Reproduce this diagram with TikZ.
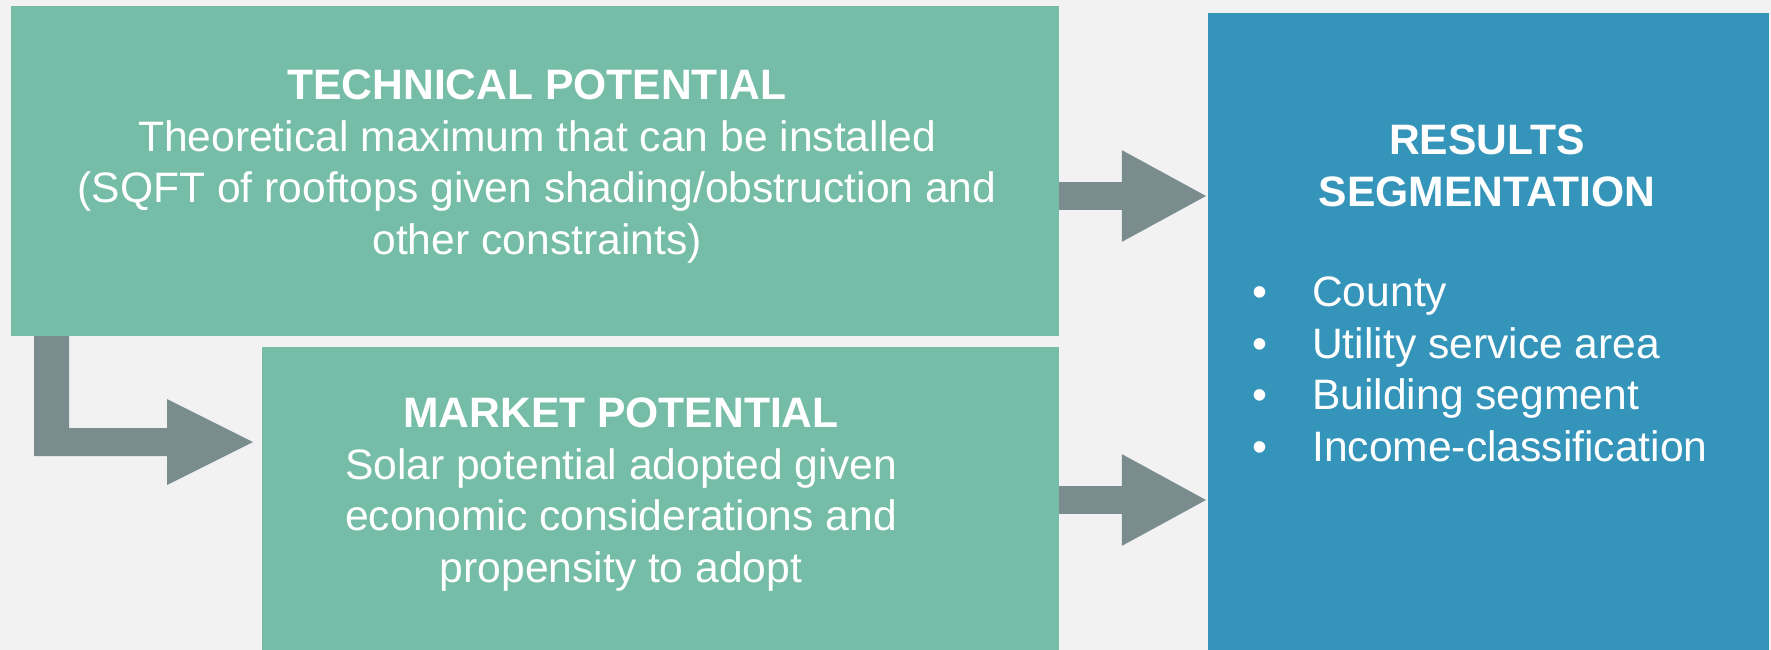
\documentclass[tikz,border=0pt]{standalone}
\usepackage{fontspec}
\setmainfont{Liberation Sans}
\usetikzlibrary{arrows.meta}

\definecolor{boxgreen}{HTML}{75BDA7}
\definecolor{boxblue}{HTML}{3494BA}
\definecolor{arrowgray}{HTML}{7A8C8E}
\definecolor{pagebg}{HTML}{F2F2F2}

\tikzset{
	panel/.style={rectangle, draw=none, inner sep=0pt},
	paneltext/.style={text=white, align=center, inner sep=0pt,
		font=\fontsize{42.6}{51.5}\selectfont},
	flow/.style={arrowgray, line width=28.3pt,
		-{Triangle[length=86pt, width=85pt]}}
}

\begin{document}
\begin{tikzpicture}[x=1pt, y=-1pt]

		% page

		\fill[pagebg] (0,0) rectangle (1771,650);

		% boxes

		\node[panel, fill=boxgreen, minimum width=1048, minimum height=330] (tech) at (535,171) {};

		\node[panel, fill=boxgreen, minimum width=797, minimum height=303] (market) at (660.5,498.5) {};

		\node[panel, fill=boxblue, minimum width=561, minimum height=636.5] (results) at (1488.5,331.75) {};

		% texts

		\node[paneltext, anchor=north] (techtext) at (537,70) {\textbf{TECHNICAL POTENTIAL}\\
			Theoretical maximum that can be installed\\
			(SQFT of rooftops given shading/obstruction and\\
			other constraints)};

		\node[paneltext, anchor=north] (markettext) at (621,398) {\textbf{MARKET POTENTIAL}\\
			Solar potential adopted given\\
			economic considerations and\\
			propensity to adopt};

		\node[paneltext, anchor=north] (resultstitle) at (1487,125) {\textbf{RESULTS}\\
			\textbf{SEGMENTATION}};

		\node[paneltext, align=left, anchor=north west] (resultslist) at (1252,277) {%
			\makebox[60pt][l]{\textbullet}County\\
			\makebox[60pt][l]{\textbullet}Utility service area\\
			\makebox[60pt][l]{\textbullet}Building segment\\
			\makebox[60pt][l]{\textbullet}Income-classification};

		% arrows

		\fill[arrowgray] (34,336) -- (69,336) -- (69,428) -- (167,428) -- (167,399)
			-- (253,442) -- (167,485) -- (167,456) -- (34,456) -- cycle;

		\draw[flow] (tech.east |- 0,196) -- (results.west |- 0,196);

		\draw[flow] (market.east |- 0,500) -- (results.west |- 0,500);

	\end{tikzpicture}
\end{document}
